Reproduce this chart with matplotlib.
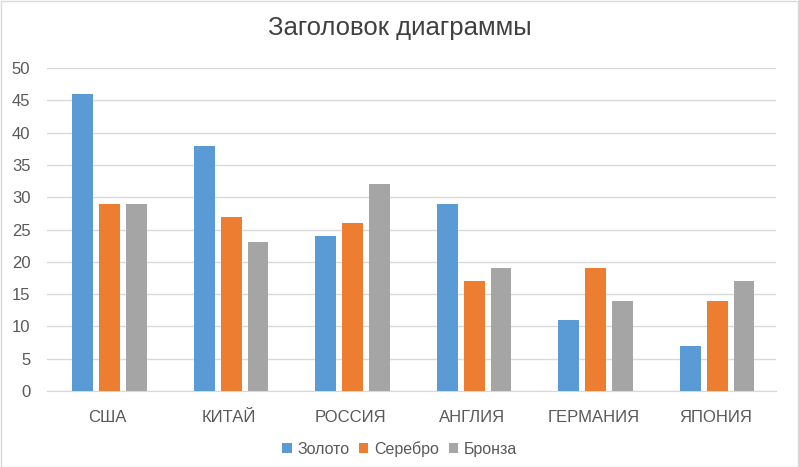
import matplotlib
matplotlib.use("Agg")
import matplotlib.pyplot as plt
import numpy as np
from matplotlib import font_manager

names = {f.name for f in font_manager.fontManager.ttflist}
fam = ['Liberation Sans Narrow', 'Liberation Sans', 'DejaVu Sans']
fam = [f for f in fam if f in names] or ['DejaVu Sans']
plt.rcParams['font.family'] = fam

categories = ['США', 'КИТАЙ', 'РОССИЯ', 'АНГЛИЯ', 'ГЕРМАНИЯ', 'ЯПОНИЯ']
series_names = ['Золото', 'Серебро', 'Бронза']
gold = [46, 38, 24, 29, 11, 7]
silver = [29, 27, 26, 17, 19, 14]
bronze = [29, 23, 32, 19, 14, 17]
colors = ['#5B9BD5', '#ED7D31', '#A5A5A5']
yticks = [0, 5, 10, 15, 20, 25, 30, 35, 40, 45, 50]

fig = plt.figure(figsize=(7.99, 4.67), dpi=100)
ax = fig.add_axes([47/799, 1-391/467, (776-47)/799, (391-68)/467])

x = np.arange(len(categories))
w = 0.172
step = 0.222
for i, (vals, c, n) in enumerate(zip([gold, silver, bronze], colors, series_names)):
    ax.bar(x + (i-1)*step + 0.015, vals, width=w, color=c, label=n, zorder=3)

ax.set_xlim(-0.5, len(categories)-0.5)
ax.set_ylim(0, 50)
ax.set_yticks(yticks)
ax.set_xticks(x)
ax.set_xticklabels(categories)
ax.yaxis.grid(True, color='#D9D9D9', linewidth=1, zorder=0)
for s in ['top', 'right', 'left']:
    ax.spines[s].set_visible(False)
ax.spines['bottom'].set_color('#D9D9D9')
ax.tick_params(axis='both', length=0, colors='#595959', labelsize=12)
ax.tick_params(axis='x', pad=14)
ax.tick_params(axis='y', pad=12)

fig.text(0.5, 1-28/467, 'Заголовок диаграммы', ha='center', va='center',
         fontsize=18.5, color='#404040')

handles, labels = ax.get_legend_handles_labels()
leg = fig.legend(handles, labels, loc='center', bbox_to_anchor=(0.5, 1-449/467),
                 ncol=3, frameon=False, fontsize=11.5, handlelength=0.6,
                 handleheight=0.6, handletextpad=0.35, columnspacing=0.6,
                 labelcolor='#595959')

fig.patches.append(plt.Rectangle((0.001, 0.001), 0.998, 0.997, transform=fig.transFigure,
                                 fill=False, edgecolor='#D9D9D9', linewidth=1))

fig.savefig('out.png', dpi=100)
